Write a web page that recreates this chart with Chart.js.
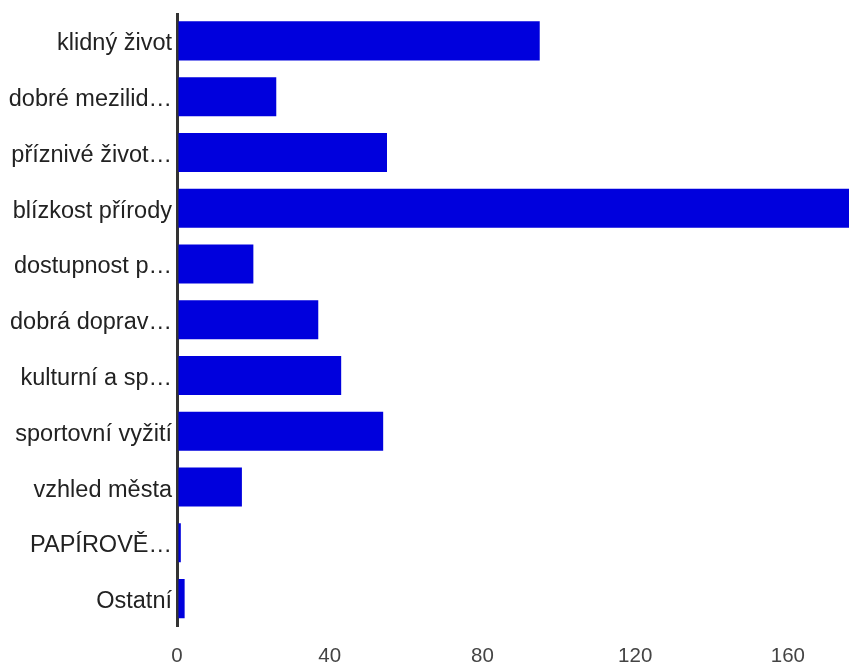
<!DOCTYPE html>
<html>
<head>
<meta charset="utf-8">
<script src="https://cdn.jsdelivr.net/npm/chart.js@4/dist/chart.umd.min.js"></script>
<style>
  html, body { margin: 0; padding: 0; background: #fff; }
  #wrap { width: 849px; height: 665px; position: relative; }
</style>
</head>
<body>
<div id="wrap"><canvas id="barChart"></canvas></div>
<script>
const categories = ["klidný život", "dobré mezilid…", "příznivé život…", "blízkost přírody", "dostupnost p…",
  "dobrá doprav…", "kulturní a sp…", "sportovní vyžití", "vzhled města", "PAPÍROVĚ…", "Ostatní"];
const counts = [95, 26, 55, 176, 20, 37, 43, 54, 17, 1, 2];
const xTicks = [0, 40, 80, 120, 160];

const CHART = document.getElementById("barChart");

let barChart = new Chart(CHART, {
  type: 'bar',
  data: {
    labels: categories,
    datasets: [{
      data: counts,
      backgroundColor: "#0000dd",
      borderWidth: 0,
      categoryPercentage: 0.7,
      barPercentage: 1.0
    }]
  },
  options: {
    indexAxis: 'y',
    responsive: true,
    maintainAspectRatio: false,
    animation: false,
    layout: { padding: { top: 13, right: 0, left: 0, bottom: 0 } },
    plugins: { legend: { display: false }, tooltip: { enabled: false } },
    scales: {
      x: {
        min: 0,
        max: 176,
        afterBuildTicks: function(scale) {
          scale.ticks = xTicks.map(v => ({ value: v }));
        },
        afterFit: function(scale) {
          scale.height = 38.5;
          scale.paddingLeft = 0;
          scale.paddingRight = 0;
        },
        grid: {
          drawTicks: false,
          color: ctx => (ctx.tick && ctx.tick.value === 0) ? "#333333" : "transparent",
          lineWidth: 3
        },
        border: { display: false },
        ticks: {
          color: "#444444",
          padding: 18,
          maxRotation: 0,
          font: { family: "'Liberation Sans', Arial, sans-serif", size: 20.5 }
        }
      },
      y: {
        afterFit: function(scale) {
          scale.width = 177;
          scale.paddingTop = 0;
          scale.paddingBottom = 0;
        },
        grid: { display: false, drawTicks: false },
        border: { display: false },
        ticks: {
          color: "#222222",
          padding: 5,
          labelOffset: 3,
          autoSkip: false,
          font: { family: "'Liberation Sans', Arial, sans-serif", size: 23.5 }
        }
      }
    }
  }
});
</script>
</body>
</html>
